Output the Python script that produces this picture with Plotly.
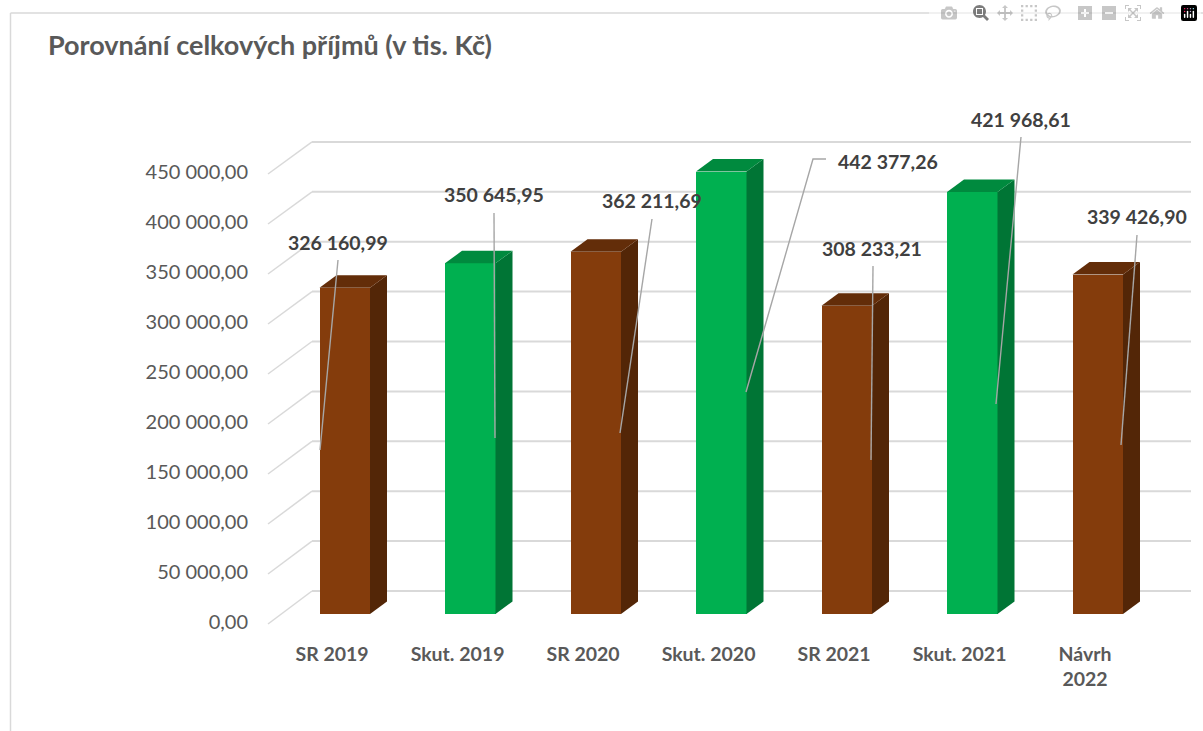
import plotly.graph_objects as go

# ---- data ----
categories = ["SR 2019", "Skut. 2019", "SR 2020", "Skut. 2020", "SR 2021", "Skut. 2021", "Návrh<br>2022"]
values = [326160.99, 350645.95, 362211.69, 442377.26, 308233.21, 421968.61, 339426.90]
kinds = ["sr", "skut", "sr", "skut", "sr", "skut", "sr"]
y_ticks = [0, 50000, 100000, 150000, 200000, 250000, 300000, 350000, 400000, 450000]

# ---- styling ----
W, H = 1203, 731
FONT = "Lato, Carlito, Calibri, sans-serif"
FRONT = {"sr": "#843C0C", "skut": "#00B050"}
SIDE = {"sr": "#532607", "skut": "#007535"}
TOP = {"sr": "#632D09", "skut": "#008A3E"}
GRID = "#D9D9D9"

# plot-area pixel box; front plane scale
L, R, T, B = 262, 1203, 100, 640
BAR0, STEP = 344.75, 125.5     # px of first bar centre, px between bars
ZERO = 614                     # px of value 0 on the bar front plane
BAR_W = 50.5 / STEP
DX, DY = 17 / STEP, 12.5 * 1000   # bar depth
LABEL_SHIFT = -12.7 / STEP


def xd(px):
    return (px - BAR0) / STEP


def yd(py):
    return (ZERO - py) * 1000


def fmt(v):
    return f"{v:,.2f}".replace(",", " ").replace(".", ",")


fig = go.Figure()

# front faces
fig.add_trace(go.Bar(
    x=list(range(len(values))), y=values, width=BAR_W,
    marker=dict(color=[FRONT[k] for k in kinds], line=dict(width=0)),
    showlegend=False, hoverinfo="skip", xaxis="x", yaxis="y",
))

# side and top faces
for i, (v, k) in enumerate(zip(values, kinds)):
    l, r = i - BAR_W / 2, i + BAR_W / 2
    fig.add_trace(go.Scatter(
        x=[r, r + DX, r + DX, r, r], y=[0, DY, v + DY, v, 0],
        mode="lines", fill="toself", fillcolor=SIDE[k], line=dict(width=0),
        showlegend=False, hoverinfo="skip"))
    fig.add_trace(go.Scatter(
        x=[l, l + DX, r + DX, r, l], y=[v, v + DY, v + DY, v, v],
        mode="lines", fill="toself", fillcolor=TOP[k], line=dict(width=0),
        showlegend=False, hoverinfo="skip"))

# leader lines and data labels (pixel layout of the callouts)
leaders = [
    ([(338, 260), (320, 450)], (338, 242)),
    ([(494, 213), (495, 438)], (494, 194)),
    ([(652, 219), (620, 433)], (652, 201)),
    ([(826, 159), (813, 159), (746, 392)], (888, 161)),
    ([(873, 266), (871, 460)], (872, 249)),
    ([(1021, 137), (996, 404)], (1021, 119)),
    ([(1137, 235), (1121, 445)], (1137, 217)),
]
annotations = []
for v, (pts, c) in zip(values, leaders):
    fig.add_trace(go.Scatter(
        x=[xd(p[0]) for p in pts], y=[yd(p[1]) for p in pts],
        mode="lines", line=dict(color="#A6A6A6", width=1.4),
        showlegend=False, hoverinfo="skip"))
    annotations.append(dict(
        x=c[0] / W, y=1 - c[1] / H, xref="paper", yref="paper",
        text=f"<b>{fmt(v)}</b>", showarrow=False,
        xanchor="center", yanchor="middle",
        font=dict(family=FONT, size=19.5, color="#404040")))

# invisible carrier for the shifted value axis
fig.add_trace(go.Scatter(x=[0], y=[0], yaxis="y2", mode="markers",
                         marker=dict(opacity=0), showlegend=False, hoverinfo="skip"))

# gridlines: back wall + slanted left wall
shapes = []
for t in y_ticks:
    fx, fy = 268, 624 - t / 1000
    bx, by = 312, 591 - t * 0.998 / 1000
    shapes.append(dict(type="line", layer="below", xref="x", yref="y",
                       x0=xd(fx), y0=yd(fy), x1=xd(bx), y1=yd(by),
                       line=dict(color=GRID, width=1.5)))
    shapes.append(dict(type="line", layer="below", xref="x", yref="y",
                       x0=xd(bx), y0=yd(by), x1=xd(1191), y1=yd(by),
                       line=dict(color=GRID, width=2)))
# chart frame
shapes.append(dict(type="line", layer="below", xref="paper", yref="paper",
                   x0=10.5 / W, y0=1 - 13 / H, x1=1, y1=1 - 13 / H,
                   line=dict(color=GRID, width=1.5)))
shapes.append(dict(type="line", layer="below", xref="paper", yref="paper",
                   x0=10.5 / W, y0=1 - 13 / H, x1=10.5 / W, y1=0,
                   line=dict(color=GRID, width=1.5)))

fig.update_layout(
    width=W, height=H, margin=dict(l=0, r=0, t=0, b=0),
    paper_bgcolor="white", plot_bgcolor="rgba(0,0,0,0)",
    title=dict(text="<b>Porovnání celkových příjmů (v tis. Kč)</b>",
               x=48 / W, xanchor="left", xref="paper",
               y=1 - 46 / H, yanchor="middle", yref="paper",
               font=dict(family=FONT, size=27, color="#595959")),
    xaxis=dict(domain=[L / W, R / W], range=[xd(L), xd(R)],
               tickmode="array",
               tickvals=[i + LABEL_SHIFT for i in range(len(categories))],
               ticktext=[f"<b>{c}</b>" for c in categories],
               tickfont=dict(family=FONT, size=19.5, color="#595959"),
               ticks="", showgrid=False, zeroline=False, showline=False),
    yaxis=dict(domain=[1 - B / H, 1 - T / H], range=[yd(B), yd(T)],
               showticklabels=False, showgrid=False, zeroline=False, ticks=""),
    yaxis2=dict(overlaying="y", side="left", anchor="free", position=L / W,
                range=[(622 - B) * 1000, (622 - T) * 1000],
                tickmode="array", tickvals=y_ticks, ticktext=[fmt(t) for t in y_ticks],
                tickfont=dict(family=FONT, size=20, color="#595959"),
                ticks="outside", ticklen=10, tickcolor="rgba(0,0,0,0)",
                showgrid=False, zeroline=False, showline=False),
    annotations=annotations, shapes=shapes, bargap=0,
)

fig.write_html("out.html", post_script="document.body.style.margin='0';document.body.style.overflow='hidden';")
